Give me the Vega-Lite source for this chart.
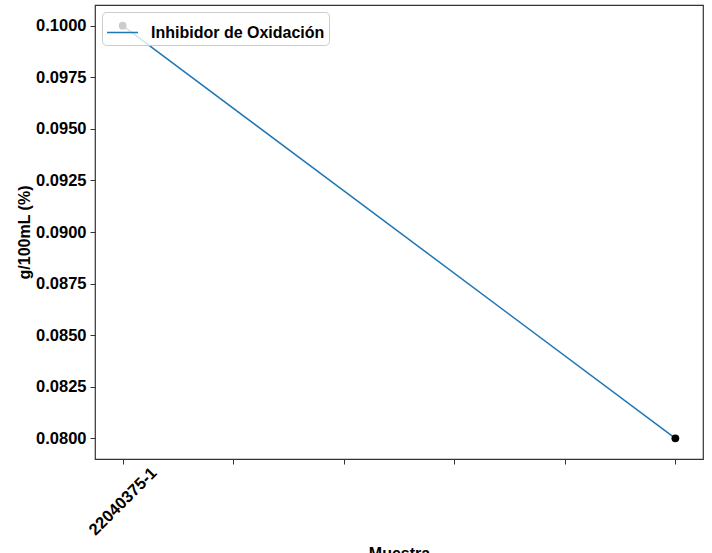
{
  "$schema": "https://vega.github.io/schema/vega-lite/v6.json",
  "width": 608,
  "height": 454,
  "autosize": {"type": "none"},
  "padding": {"left": 95, "top": 5, "right": 9, "bottom": 94},
  "background": "white",
  "config": {
    "font": "Liberation Sans",
    "view": {"stroke": "#333333", "strokeWidth": 1.2},
    "axis": {
      "grid": false,
      "domain": false,
      "tickColor": "#333333",
      "tickSize": 5,
      "tickWidth": 1,
      "labelFont": "Liberation Sans",
      "labelFontWeight": "bold",
      "labelFontSize": 16.5,
      "labelColor": "black",
      "titleFont": "Liberation Sans",
      "titleFontWeight": "bold",
      "titleFontSize": 16,
      "titleColor": "black"
    }
  },
  "data": {
    "values": [
      {"pos": 0, "muestra": "22040375-1", "valor": 0.1, "serie": "Inhibidor de Oxidación"},
      {"pos": 5, "muestra": "", "valor": 0.08, "serie": "Inhibidor de Oxidación"}
    ]
  },
  "encoding": {
    "x": {
      "field": "pos",
      "type": "quantitative",
      "scale": {"domain": [-0.25, 5.25], "nice": false, "zero": false},
      "axis": {
        "title": "Muestra",
        "values": [0, 1, 2, 3, 4, 5],
        "labelExpr": "datum.value == 0 ? '22040375-1' : ''",
        "labelAngle": -45,
        "labelAlign": "center",
        "labelBaseline": "middle",
        "labelPadding": 37,
        "titlePadding": 7
      }
    },
    "y": {
      "field": "valor",
      "type": "quantitative",
      "scale": {"domain": [0.079, 0.101], "nice": false, "zero": false},
      "axis": {
        "title": "g/100mL (%)",
        "values": [0.08, 0.0825, 0.085, 0.0875, 0.09, 0.0925, 0.095, 0.0975, 0.1],
        "format": ".4f",
        "labelPadding": 4,
        "titlePadding": 3
      }
    }
  },
  "layer": [
    {
      "mark": {"type": "line", "strokeWidth": 1.5},
      "encoding": {
        "color": {
          "field": "serie",
          "type": "nominal",
          "scale": {"range": ["#1f77b4"]},
          "legend": {
            "title": null,
            "orient": "top-left",
            "offset": 7,
            "zindex": 1,
            "padding": 4,
            "fillColor": "rgba(255,255,255,0.8)",
            "strokeColor": "#cccccc",
            "cornerRadius": 4,
            "symbolType": "stroke",
            "symbolSize": 961,
            "symbolStrokeWidth": 1.5,
            "labelOffset": 12,
            "labelLimit": 400,
            "labelFont": "Liberation Sans",
            "labelFontWeight": "bold",
            "labelFontSize": 16,
            "labelColor": "black"
          }
        }
      }
    },
    {
      "mark": {"type": "point", "filled": true, "size": 60, "color": "black", "opacity": 1},
      "encoding": {}
    }
  ]
}
